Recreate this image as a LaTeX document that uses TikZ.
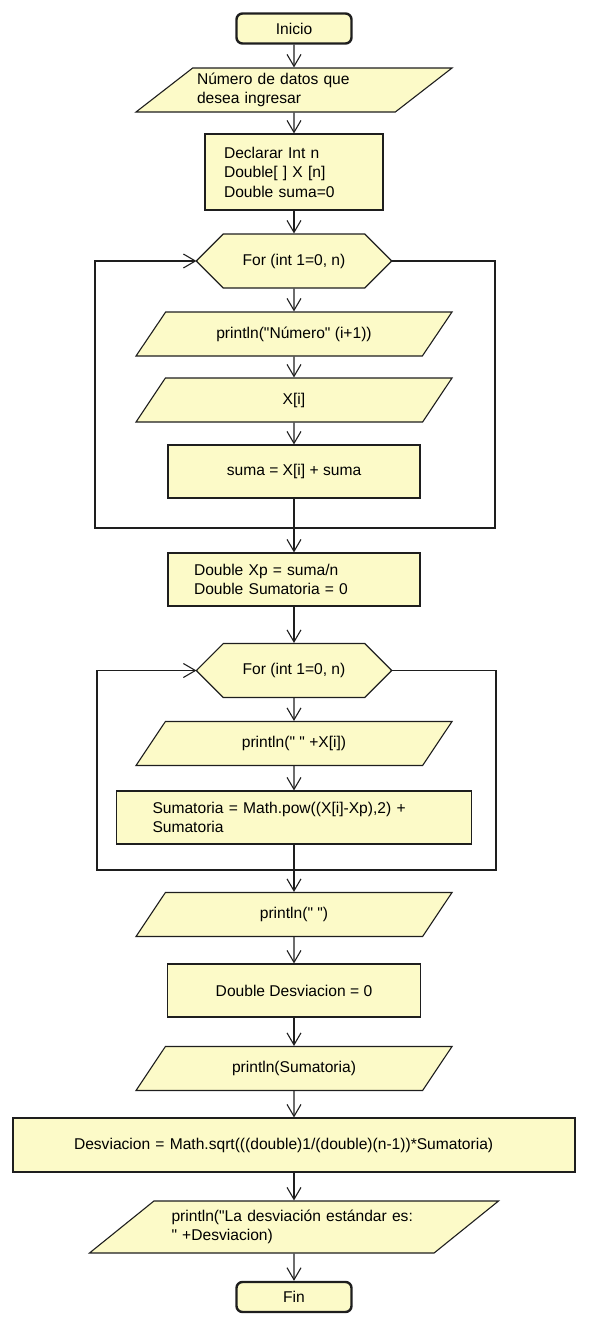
\documentclass[tikz,border=0pt]{standalone}
\usepackage{fontspec}
\newfontfamily\chartfont{Liberation Sans}
\usetikzlibrary{arrows.meta,shapes.geometric,shapes.misc}
\definecolor{boxfill}{RGB}{252,250,200}
\definecolor{edge}{RGB}{30,30,30}

\begin{document}
\begin{tikzpicture}[x=1pt, y=-1pt, >={Straight Barb[length=12pt,width=14pt]},
    every node/.style={font=\chartfont\fontsize{15.6}{19.5}\selectfont, draw=edge, fill=boxfill, line width=1.1pt},
    term/.style={rectangle, rounded corners=6pt, line width=2.4pt, minimum width=115pt, minimum height=30pt},
    proc/.style={rectangle, minimum height=53pt},
    io/.style={trapezium, trapezium left angle=35.8, trapezium right angle=144.2, trapezium stretches body,
        minimum width=316pt, minimum height=44pt, inner xsep=0pt},
    loop/.style={chamfered rectangle, chamfered rectangle xsep=39pt, chamfered rectangle ysep=27pt,
        inner ysep=-8pt, minimum width=194pt, minimum height=54pt},
    flow/.style={->, draw=edge, line width=1.1pt}]
    \useasboundingbox (0,0) rectangle (589,1326);

    % Start and input
    \node (inicio) at (294,28.5) [term] {Inicio};
    \node (datos) at (294,90) [io, text width=194pt, align=left] {Número de datos que\\desea ingresar};
    \node (decl) at (294,172) [proc, minimum width=178pt, minimum height=76pt, text width=140pt, align=left]
        {Declarar Int n\\Double[ ] X [n]\\Double suma=0};

    % First loop
    \node (for1) at (294,261) [loop] {For (int 1=0, n)};
    \node (num) at (294,334) [io] {println("Número" (i+1))};
    \node (xi) at (294,400) [io] {X[i]};
    \node (suma) at (294,471.5) [proc, minimum width=252pt] {suma = X[i] + suma};
    \coordinate (r1) at (495,528);
    \coordinate (l1) at (95,528);

    % Mean
    \node (xp) at (294,579.5) [proc, minimum width=252pt, text width=200pt, align=left]
        {Double Xp = suma/n\\Double Sumatoria = 0};

    % Second loop
    \node (for2) at (294,670.5) [loop] {For (int 1=0, n)};
    \node (pxi) at (294,743.5) [io] {println(" " +X[i])};
    \node (sumat) at (294,817.5) [proc, minimum width=355pt, text width=283pt, align=left]
        {Sumatoria = Math.pow((X[i]-Xp),2) +\\Sumatoria};
    \coordinate (r2) at (496,870);
    \coordinate (l2) at (97,870);

    % Output
    \node (pblank) at (294,914.5) [io] {println(" ")};
    \node (desv0) at (294,990.5) [proc, minimum width=253pt] {Double Desviacion = 0};
    \node (psum) at (294,1068.5) [io] {println(Sumatoria)};
    \node (desv) at (294,1145) [proc, minimum width=562pt, minimum height=54pt, text width=440pt, align=left]
        {Desviacion = Math.sqrt(((double)1/(double)(n-1))*Sumatoria)};
    \node (pfin) at (294,1227) [io, trapezium left angle=32.4, trapezium right angle=147.6,
        minimum width=409pt, minimum height=52pt, text width=245pt, align=left]
        {println("La desviación estándar es:\\" +Desviacion)};
    \node (fin) at (294,1297) [term] {Fin};

    % Connectors
    \draw[flow] (inicio) -- (datos);
    \draw[flow] (datos) -- (decl);
    \draw[flow] (decl) -- (for1);
    \draw[flow] (for1) -- (num);
    \draw[flow] (num) -- (xi);
    \draw[flow] (xi) -- (suma);
    \draw[flow] (for1.east) -| (r1) -- (l1) |- (for1.west);
    \draw[flow] (suma) -- (xp);
    \draw[flow] (xp) -- (for2);
    \draw[flow] (for2) -- (pxi);
    \draw[flow] (pxi) -- (sumat);
    \draw[flow] (for2.east) -| (r2) -- (l2) |- (for2.west);
    \draw[flow] (sumat) -- (pblank);
    \draw[flow] (pblank) -- (desv0);
    \draw[flow] (desv0) -- (psum);
    \draw[flow] (psum) -- (desv);
    \draw[flow] (desv) -- (pfin);
    \draw[flow] (pfin) -- (fin);
\end{tikzpicture}
\end{document}
